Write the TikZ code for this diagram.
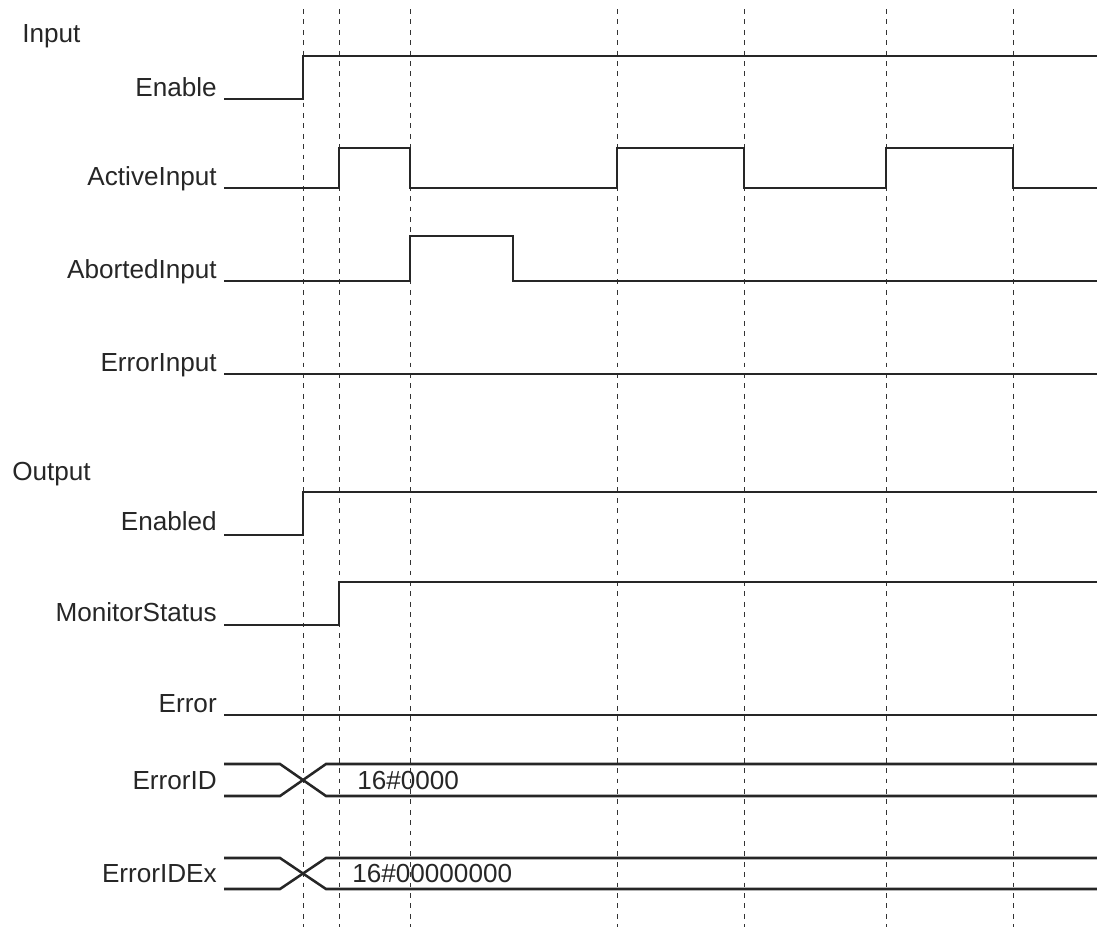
\documentclass[tikz,border=0pt]{standalone}
\usepackage{fontspec}
\setmainfont{Liberation Sans}
\usetikzlibrary{positioning}
\tikzset{%
  sig/.style={line width=1.9pt, color=black!85},
  guide/.style={line width=0.75pt, color=black!80, dash pattern=on 3.6pt off 4.2pt},
  lbl/.style={anchor=base east, inner sep=0pt, font=\fontsize{19.6}{23}\selectfont, text=black!85},
  head/.style={anchor=base west, inner sep=0pt, font=\fontsize{19.6}{23}\selectfont, text=black!85},
}

\begin{document}
\begin{tikzpicture}[x=0.75pt, y=-0.75pt]

\useasboundingbox (0,0) rectangle (1097,929);

% Dashed timing guides
\foreach \t in {303,339,410,617,744,886,1013}
  \draw[guide] (\t,9) -- (\t,927);

% Group headings
\node[head] (hIn)  at (22,42)  {Input};
\node[head] (hOut) at (12,480) {Output};

% Signal names
\node[lbl] (lEnable)  at (217,96)  {Enable};
\node[lbl] (lActive)  at (217,185) {ActiveInput};
\node[lbl] (lAborted) at (217,278) {AbortedInput};
\node[lbl] (lErrIn)   at (217,371) {ErrorInput};
\node[lbl] (lEnabled) at (217,530) {Enabled};
\node[lbl] (lMonitor) at (217,621) {MonitorStatus};
\node[lbl] (lError)   at (217,712) {Error};
\node[lbl] (lErrID)   at (217,789) {ErrorID};
\node[lbl] (lErrIDEx) at (217,882) {ErrorIDEx};

% Input traces
\draw[sig] (224,99) -- (303,99) -- (303,56) -- (1097,56);
\draw[sig] (224,188) -- (339,188) -- (339,148) -- (410,148) -- (410,188)
  -- (617,188) -- (617,148) -- (744,148) -- (744,188)
  -- (886,188) -- (886,148) -- (1013,148) -- (1013,188) -- (1097,188);
\draw[sig] (224,281) -- (410,281) -- (410,236) -- (513,236) -- (513,281) -- (1097,281);
\draw[sig] (224,374) -- (1097,374);

% Output traces
\draw[sig] (224,535) -- (303,535) -- (303,492) -- (1097,492);
\draw[sig] (224,625) -- (339,625) -- (339,582) -- (1097,582);
\draw[sig] (224,715) -- (1097,715);

% Bus values
\foreach \yt/\yb in {764/796, 858/889} {
  \draw[sig] (224,\yt) -- (280,\yt) -- (326,\yb) -- (1097,\yb);
  \draw[sig] (224,\yb) -- (280,\yb) -- (326,\yt) -- (1097,\yt);
}
\node[head] (vErrID)   at (357,789) {16\#0000};
\node[head] (vErrIDEx) at (352,882) {16\#00000000};

\end{tikzpicture}
\end{document}
